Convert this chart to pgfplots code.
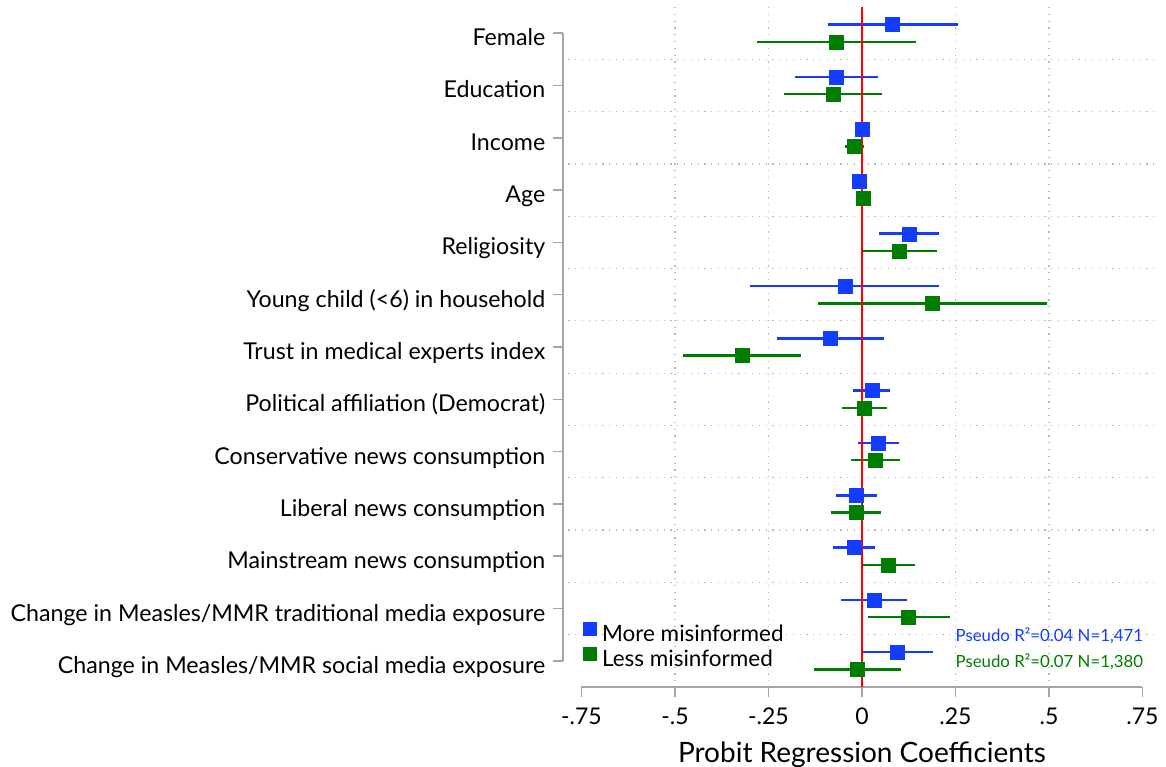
\documentclass[border=0pt]{standalone}
\usepackage{pgfplots}
\usepackage{pgfplotstable}
\pgfplotsset{compat=1.18}
\usepackage{fontspec}
\setmainfont{Lato}

\definecolor{mblue}{RGB}{20,60,255}
\definecolor{mgreen}{RGB}{0,125,0}
\definecolor{axgray}{RGB}{165,165,165}
\definecolor{grdgray}{RGB}{185,185,185}

% c = category (1 = top), b = coefficient, lo/hi = confidence interval
\pgfplotstableread{
c  b       lo      hi
1  0.082  -0.092   0.256
2  -0.070 -0.179   0.042
3  0.000  -0.020   0.020
4  -0.007 -0.012  -0.002
5  0.127   0.046   0.206
6  -0.045 -0.300   0.206
7  -0.085 -0.228   0.060
8  0.026  -0.025   0.075
9  0.044  -0.011   0.099
10 -0.016 -0.070   0.039
11 -0.021 -0.077   0.036
12 0.032  -0.057   0.120
13 0.095   0.002   0.191
}\moremis

\pgfplotstableread{
c  b       lo      hi
1  -0.070 -0.282   0.145
2  -0.077 -0.208   0.053
3  -0.020 -0.046   0.005
4  0.004  -0.001   0.009
5  0.100   0.000   0.200
6  0.188  -0.118   0.496
7  -0.320 -0.479  -0.163
8  0.005  -0.054   0.066
9  0.036  -0.029   0.101
10 -0.016 -0.083   0.051
11 0.070   0.000   0.142
12 0.124   0.016   0.234
13 -0.012 -0.127   0.104
}\lessmis

\begin{document}
\begin{tikzpicture}
\begin{axis}[
  at={(0pt,0pt)}, anchor=south west,
  scale only axis,
  width=598.4pt, height=680pt,
  xmin=-0.8, xmax=0.8,
  ymin=-13.5, ymax=-0.5,
  axis line style={draw=none},
  xtick={-0.75,-0.5,-0.25,0,0.25,0.5,0.75},
  xticklabels={-.75,-.5,-.25,0,.25,.5,.75},
  ytick={-13,-12,-11,-10,-9,-8,-7,-6,-5,-4,-3,-2,-1},
  yticklabels={Change in Measles/MMR social media exposure,
    Change in Measles/MMR traditional media exposure,
    Mainstream news consumption, Liberal news consumption,
    Conservative news consumption, Political affiliation (Democrat),
    Trust in medical experts index, Young child (<6) in household,
    Religiosity, Age, Income, Education, Female},
  xtick pos=bottom, ytick pos=left,
  tick align=outside,
  major tick length=10pt,
  tick style={axgray, line width=1.6pt},
  yticklabel style={font=\fontsize{23.2}{26}\selectfont, anchor=base east,
    xshift=-4pt, yshift=-12.5pt},
  xticklabel style={font=\fontsize{23}{26}\selectfont, yshift=-7pt},
  xlabel={Probit Regression Coefficients},
  xlabel style={font=\fontsize{28}{32}\selectfont, yshift=-11pt},
  clip=false,
  legend style={at={(axis cs:-0.757,-12.26)}, anchor=north west, draw=none,
    fill=none, inner sep=0pt, font=\fontsize{22.5}{24}\selectfont,
    row sep=2pt},
  legend cell align=left,
  legend image code/.code={
    \fill[#1] (3.5pt,-2pt) rectangle (17.5pt,12pt);
    \path (0pt,0pt) (21pt,0pt);},
]
% grid
\pgfplotsinvokeforeach{-1.5,-2.5,-3.5,-4.5,-5.5,-6.5,-7.5,-8.5,-9.5,-10.5,-11.5,-12.5}{
  \draw[grdgray, line width=1.2pt, dash pattern=on 1.2pt off 5.6pt]
    (axis cs:-0.785,#1) -- (axis cs:0.79,#1);
}
\pgfplotsinvokeforeach{-0.5,-0.25,0.25,0.5}{
  \draw[grdgray, line width=1.2pt, dash pattern=on 1.2pt off 5.6pt]
    (axis cs:#1,-0.5) -- (axis cs:#1,-13.5);
}
% axis lines
\draw[axgray, line width=1.6pt] (axis cs:-0.8,-1) -- (axis cs:-0.8,-13);
\draw[axgray, line width=1.6pt] (axis cs:-0.75,-13.5) -- (axis cs:0.75,-13.5);

\addplot[mblue, only marks, mark=square*, mark size=7pt, forget plot,
  error bars/.cd, x dir=both, x explicit, error mark=none,
  error bar style={line width=2.5pt, mblue}]
  table[x=b, y expr=-\thisrow{c}+0.165,
        x error plus expr=\thisrow{hi}-\thisrow{b},
        x error minus expr=\thisrow{b}-\thisrow{lo}] {\moremis};
\addplot[mgreen, only marks, mark=square*, mark size=7pt, forget plot,
  error bars/.cd, x dir=both, x explicit, error mark=none,
  error bar style={line width=2.5pt, mgreen}]
  table[x=b, y expr=-\thisrow{c}-0.165,
        x error plus expr=\thisrow{hi}-\thisrow{b},
        x error minus expr=\thisrow{b}-\thisrow{lo}] {\lessmis};

\draw[red, line width=1.8pt] (axis cs:0,-0.5) -- (axis cs:0,-13.5);

\addlegendimage{fill=mblue, draw=none}
\addlegendentry{More misinformed}
\addlegendimage{fill=mgreen, draw=none}
\addlegendentry{Less misinformed}

\node[anchor=east, text=mblue, font=\fontsize{16.8}{18}\selectfont, inner sep=0pt]
  at (axis cs:0.752,-12.53) {Pseudo R²=0.04 N=1,471};
\node[anchor=east, text=mgreen, font=\fontsize{16.8}{18}\selectfont, inner sep=0pt]
  at (axis cs:0.752,-13.02) {Pseudo R²=0.07 N=1,380};
\end{axis}
\pgfresetboundingbox
\path (-562.8pt,-80pt) rectangle (603.2pt,687pt);
\end{tikzpicture}
\end{document}
